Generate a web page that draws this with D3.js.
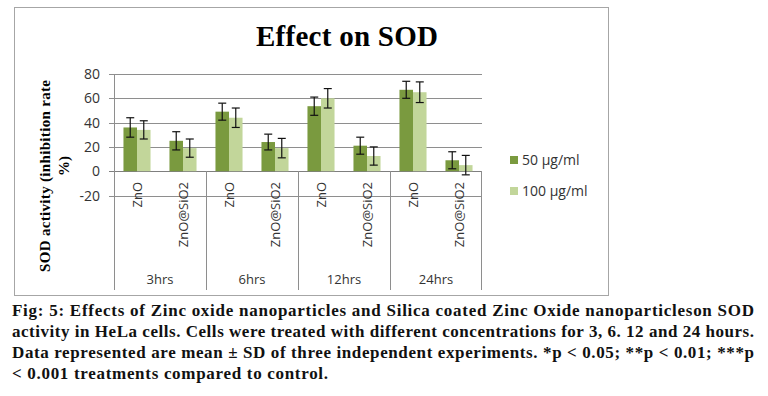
<!DOCTYPE html>
<html>
<head>
<meta charset="utf-8">
<script src="https://cdn.jsdelivr.net/npm/d3@7"></script>
<style>
  body { margin: 0; background: #fff; }
  svg { display: block; }
</style>
</head>
<body>
<svg id="chart" width="768" height="396"></svg>
<script>
// groups and sub categories
const groups = ['3hrs', '6hrs', '12hrs', '24hrs'];
const samples = ['ZnO', 'ZnO@SiO2'];
const seriesNames = ['50 \u00b5g/ml', '100 \u00b5g/ml'];
const seriesColors = ['#7a9a3f', '#c2d69a'];

// values in group order: 3hrs ZnO, 3hrs ZnO@SiO2, 6hrs ZnO, ...
const values50 = [36, 25, 49, 24, 53.5, 21, 67, 9];
const values100 = [34, 19, 44, 19, 60, 12.5, 65, 5];
const err50 = [8, 7.5, 7, 6.5, 7.5, 7, 7, 7];
const err100 = [7.5, 7.5, 8, 8, 8, 7.5, 8.5, 8];
const yTicks = [-20, 0, 20, 40, 60, 80];

const captionLines = [
  'Fig: 5: Effects of Zinc oxide nanoparticles and Silica coated Zinc Oxide nanoparticleson SOD',
  'activity in HeLa cells. Cells were treated with different concentrations for 3, 6. 12 and 24 hours.',
  'Data represented are mean \u00b1 SD of three independent experiments. *p < 0.05; **p < 0.01; ***p',
  '< 0.001 treatments compared to control.'
];

const serif = "'Liberation Serif', 'Times New Roman', serif";
const sans = "'Open Sans', 'Liberation Sans', sans-serif";

let svg = d3.select('#chart');

// chart frame
svg.append('rect')
  .attr('x', 14.5).attr('y', 7.5)
  .attr('width', 594).attr('height', 288)
  .attr('fill', '#fff')
  .attr('stroke', '#a6a6a6');

let plotLeft = 114, plotRight = 482;
let y = d3.scaleLinear().domain([-20, 80]).range([195.5, 74]);

// one band per sample, grouped by time
let cats = [];
groups.forEach(g => samples.forEach(s => cats.push(g + '|' + s)));
let x = d3.scaleBand().domain(cats).range([plotLeft, plotRight]);
let xg = d3.scaleBand().domain(groups).range([plotLeft, plotRight]);
let inner = d3.scaleBand().domain([0, 1]).range([0, x.bandwidth()]).paddingOuter(0.7).paddingInner(0);

// gridlines
svg.append('g')
  .selectAll('line')
  .data(yTicks)
  .enter()
  .append('line')
  .attr('x1', plotLeft - 5).attr('x2', plotRight)
  .attr('y1', d => Math.round(y(d)) + 0.5)
  .attr('y2', d => Math.round(y(d)) + 0.5)
  .attr('stroke', d => d === 0 ? '#7f7f7f' : '#8e8e8e');

// y axis line
svg.append('line')
  .attr('x1', plotLeft + 0.5).attr('x2', plotLeft + 0.5)
  .attr('y1', y(80)).attr('y2', 290)
  .attr('stroke', '#8e8e8e');

// group separators below zero line
svg.append('g')
  .selectAll('line')
  .data(groups.slice(1).concat(['end']))
  .enter()
  .append('line')
  .attr('x1', d => d === 'end' ? plotRight - 0.5 : Math.round(xg(d)) + 0.5)
  .attr('x2', d => d === 'end' ? plotRight - 0.5 : Math.round(xg(d)) + 0.5)
  .attr('y1', Math.round(y(0)))
  .attr('y2', 290)
  .attr('stroke', '#8e8e8e');

// y tick labels
svg.append('g')
  .selectAll('text')
  .data(yTicks)
  .enter()
  .append('text')
  .attr('x', 100)
  .attr('y', d => y(d) + 5)
  .attr('text-anchor', 'end')
  .attr('font-family', sans)
  .attr('font-size', 14)
  .attr('fill', '#333')
  .text(d => d);

// bars
let allVals = [values50, values100];
let allErr = [err50, err100];
allVals.forEach((vals, si) => {
  let g = svg.append('g');
  g.selectAll('rect')
    .data(vals)
    .enter()
    .append('rect')
    .attr('x', (d, i) => x(cats[i]) + inner(si))
    .attr('width', inner.bandwidth())
    .attr('y', d => y(Math.max(0, d)))
    .attr('height', d => Math.abs(y(d) - y(0)))
    .attr('fill', seriesColors[si]);

  // error bars
  let eb = svg.append('g').attr('stroke', '#111').attr('stroke-width', 1.2);
  vals.forEach((d, i) => {
    let cx = x(cats[i]) + inner(si) + inner.bandwidth() / 2;
    let e = allErr[si][i];
    eb.append('line').attr('x1', cx).attr('x2', cx).attr('y1', y(d + e)).attr('y2', y(d - e));
    eb.append('line').attr('x1', cx - 4).attr('x2', cx + 4).attr('y1', y(d + e)).attr('y2', y(d + e));
    eb.append('line').attr('x1', cx - 4).attr('x2', cx + 4).attr('y1', y(d - e)).attr('y2', y(d - e));
  });
});

// category labels (rotated)
svg.append('g')
  .selectAll('text')
  .data(cats)
  .enter()
  .append('text')
  .attr('transform', d => 'translate(' + (x(d) + x.bandwidth() / 2 + 5) + ',182) rotate(-90)')
  .attr('text-anchor', 'end')
  .attr('font-family', sans)
  .attr('font-size', 13)
  .attr('fill', '#333')
  .text(d => d.split('|')[1]);

// group labels
svg.append('g')
  .selectAll('text')
  .data(groups)
  .enter()
  .append('text')
  .attr('x', d => xg(d) + xg.bandwidth() / 2)
  .attr('y', 284)
  .attr('text-anchor', 'middle')
  .attr('font-family', sans)
  .attr('font-size', 13)
  .attr('fill', '#333')
  .text(d => d);

// title
svg.append('text')
  .attr('x', 347).attr('y', 46)
  .attr('text-anchor', 'middle')
  .attr('font-family', serif)
  .attr('font-weight', 'bold')
  .attr('font-size', 29)
  .attr('textLength', 182)
  .text('Effect on SOD');

// y axis title, two lines
let yt = svg.append('text')
  .attr('transform', 'translate(50,176) rotate(-90)')
  .attr('text-anchor', 'middle')
  .attr('font-family', serif)
  .attr('font-weight', 'bold')
  .attr('font-size', 15);
yt.append('tspan').attr('x', 0).attr('y', 0).attr('textLength', 192).attr('lengthAdjust', 'spacing').text('SOD activity (inhibition rate');
yt.append('tspan').attr('x', 10).attr('y', 19).text('%)');

// legend
let legend = svg.append('g');
seriesNames.forEach((name, i) => {
  let ly = 160 + i * 31;
  legend.append('rect')
    .attr('x', 510).attr('y', ly - 4)
    .attr('width', 8).attr('height', 8)
    .attr('fill', seriesColors[i]);
  legend.append('text')
    .attr('x', 522).attr('y', ly + 5)
    .attr('font-family', sans)
    .attr('font-size', 14)
    .attr('fill', '#333')
    .text(name);
});

// caption
let cap = svg.append('g')
  .attr('font-family', serif)
  .attr('font-weight', 'bold')
  .attr('font-size', 17)
  .attr('fill', '#111');
captionLines.forEach((line, i) => {
  cap.append('text')
    .attr('x', 12)
    .attr('y', 316 + i * 21)
    .attr('textLength', i < 3 ? 742 : 316)
    .attr('lengthAdjust', 'spacing')
    .text(line);
});
</script>
</body>
</html>
